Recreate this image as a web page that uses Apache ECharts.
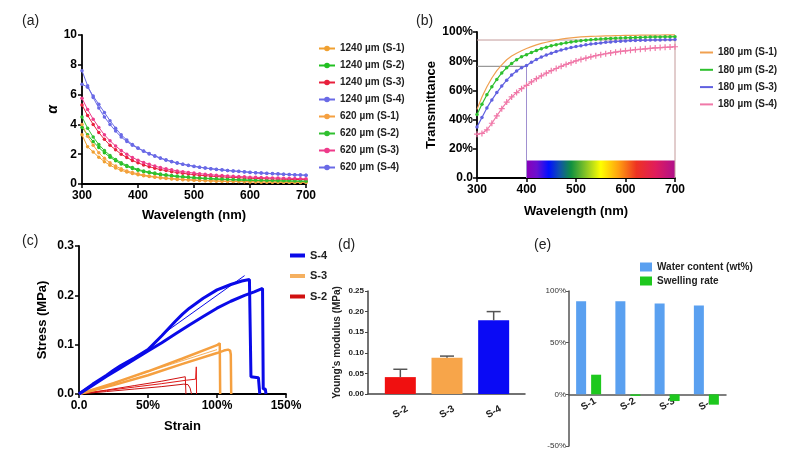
<!DOCTYPE html>
<html><head><meta charset="utf-8">
<script src="https://cdn.jsdelivr.net/npm/echarts@6/dist/echarts.min.js"></script>
<style>html,body{margin:0;padding:0;background:#fff}#c{width:787px;height:458px}</style>
</head><body><div id="c"></div>
<script>
// ---------- Panel (a): absorption coefficient ----------
const wavelengths = [300,310,320,330,340,350,360,370,380,390,400,410,420,430,440,450,460,470,480,490,500,510,520,530,540,550,560,570,580,590,600,610,620,630,640,650,660,670,680,690,700];
const a1240S1 = [3.3,2.5,2.15,1.8,1.5,1.26,1.07,0.92,0.8,0.7,0.62,0.55,0.5,0.45,0.41,0.37,0.34,0.31,0.29,0.27,0.25,0.23,0.22,0.2,0.19,0.18,0.17,0.16,0.16,0.15,0.14,0.14,0.13,0.13,0.12,0.12,0.11,0.11,0.1,0.1,0.1];
const a1240S2 = [3.8,3.3,2.85,2.45,2.1,1.8,1.56,1.35,1.18,1.04,0.92,0.83,0.75,0.68,0.62,0.57,0.53,0.49,0.46,0.43,0.4,0.38,0.36,0.34,0.32,0.3,0.29,0.27,0.26,0.25,0.24,0.23,0.22,0.21,0.21,0.2,0.19,0.19,0.18,0.18,0.17];
const a1240S3 = [5.3,4.6,4.0,3.45,3.0,2.6,2.3,2.0,1.78,1.58,1.42,1.28,1.16,1.06,0.97,0.9,0.83,0.77,0.72,0.67,0.63,0.59,0.56,0.53,0.5,0.48,0.46,0.44,0.42,0.4,0.39,0.37,0.36,0.35,0.34,0.33,0.32,0.31,0.3,0.3,0.29];
const a1240S4 = [6.7,6.5,5.9,5.35,4.8,4.25,3.75,3.3,2.95,2.65,2.42,2.22,2.04,1.89,1.75,1.62,1.51,1.42,1.33,1.26,1.19,1.13,1.08,1.03,0.99,0.95,0.91,0.88,0.85,0.82,0.79,0.76,0.74,0.72,0.7,0.68,0.66,0.64,0.62,0.61,0.59];
const a620S1 = [4.0,3.2,2.6,2.1,1.72,1.42,1.2,1.02,0.88,0.77,0.68,0.6,0.54,0.49,0.44,0.4,0.37,0.34,0.31,0.29,0.27,0.25,0.24,0.22,0.21,0.2,0.19,0.18,0.17,0.16,0.16,0.15,0.14,0.14,0.13,0.13,0.12,0.12,0.11,0.11,0.11];
const a620S2 = [4.5,3.75,3.15,2.65,2.25,1.92,1.65,1.43,1.25,1.1,0.98,0.88,0.8,0.73,0.67,0.62,0.57,0.53,0.5,0.47,0.44,0.41,0.39,0.37,0.35,0.33,0.32,0.3,0.29,0.28,0.27,0.26,0.25,0.24,0.23,0.22,0.22,0.21,0.2,0.2,0.19];
const a620S3 = [5.75,5.0,4.35,3.8,3.3,2.9,2.55,2.25,2.0,1.78,1.6,1.45,1.32,1.2,1.1,1.02,0.95,0.88,0.83,0.78,0.73,0.69,0.66,0.62,0.59,0.57,0.54,0.52,0.5,0.48,0.46,0.45,0.43,0.42,0.41,0.4,0.39,0.38,0.37,0.36,0.35];
const a620S4 = [7.6,6.6,5.8,5.1,4.5,4.0,3.55,3.15,2.85,2.6,2.4,2.2,2.02,1.87,1.73,1.6,1.5,1.4,1.32,1.25,1.18,1.12,1.07,1.02,0.98,0.94,0.9,0.87,0.84,0.81,0.78,0.76,0.73,0.71,0.69,0.67,0.65,0.63,0.61,0.6,0.58];
const aNames = ['1240 µm (S-1)','1240 µm (S-2)','1240 µm (S-3)','1240 µm (S-4)','620 µm (S-1)','620 µm (S-2)','620 µm (S-3)','620 µm (S-4)'];
const aColors = ['#f0a030','#22c022','#e8203c','#6a6ae6','#f5a040','#30c030','#ee3b8a','#6a6ae6'];
const aData = [a1240S1,a1240S2,a1240S3,a1240S4,a620S1,a620S2,a620S3,a620S4];

// ---------- Panel (b): transmittance ----------
const tS1 = [47,55.5,62.5,68.5,73.5,77.5,81,83.5,85.5,87.2,88.7,90,91.2,92.2,93,93.8,94.5,95.1,95.6,96,96.3,96.6,96.8,97,97.1,97.2,97.3,97.4,97.5,97.6,97.65,97.7,97.75,97.8,97.85,97.9,97.9,97.95,98,98,98];
const tS2 = [43.5,50.5,57,62.5,67.5,72,75.5,78.5,81,83,84.5,86,87.4,88.6,89.6,90.5,91.3,92,92.6,93.1,93.6,94,94.4,94.7,95,95.2,95.4,95.6,95.8,95.9,96,96.1,96.2,96.3,96.4,96.5,96.6,96.6,96.7,96.7,96.8];
const tS3 = [35,41.5,48,53.5,58.5,63,67,70.5,73.3,75.5,77,79.3,81.2,82.8,84.2,85.5,86.6,87.6,88.5,89.3,90,90.6,91.2,91.7,92.1,92.5,92.9,93.2,93.5,93.7,93.9,94.1,94.2,94.3,94.4,94.5,94.6,94.6,94.7,94.7,94.8];
const tS4 = [30,30.5,33,37.5,42.5,47.5,52,55.5,58.5,61.2,63.5,65.8,68,70,71.8,73.5,75,76.5,77.8,79,80.2,81.2,82.1,83,83.8,84.5,85.1,85.7,86.2,86.7,87.1,87.5,87.9,88.2,88.5,88.8,89.1,89.3,89.5,89.7,89.9];
const bNames = ['180 µm (S-1)','180 µm (S-2)','180 µm (S-3)','180 µm (S-4)'];
const bColors = ['#f0a050','#2ec02e','#6060e0','#f078a8'];
const refHigh = [[300,94.5],[700,94.5],[700,0]];
const refLowH = [[300,76.5],[400,76.5]];
const refLowV = [[400,76.5],[400,0]];
const spectrumBox = [400, 700, 12];

// ---------- Panel (c): stress-strain ----------
const s4aStrain = [0,10,20,25,30,40,50,60,70,75,80,90,100,110,118,123.5,124.5,124.6,130,130.5,131];
const s4aStress = [0,0.02,0.038,0.048,0.057,0.073,0.09,0.118,0.148,0.162,0.174,0.194,0.211,0.222,0.229,0.232,0.232,0.035,0.033,0.033,0];
const s4bStrain = [0,10,20,30,40,50,60,70,80,90,100,110,120,127,133,133.5,134,135,135.5];
const s4bStress = [0,0.018,0.036,0.053,0.07,0.087,0.104,0.122,0.14,0.157,0.174,0.188,0.2,0.207,0.214,0.01,0.01,0.01,0];
const s4FitStrain = [60,120];
const s4FitStress = [0.12,0.24];
const s3aStrain = [0,25,50,75,100,102,102.3];
const s3aStress = [0,0.022,0.046,0.072,0.099,0.103,0];
const s3bStrain = [0,25,50,75,100,105,108,109.5,110,110.3];
const s3bStress = [0,0.018,0.038,0.061,0.083,0.088,0.09,0.088,0.08,0];
const s3FitStrain = [22,100];
const s3FitStress = [0.02,0.09];
const s2aStrain = [0,20,40,60,77,77.3,77.5];
const s2aStress = [0,0.008,0.017,0.026,0.035,0.035,0];
const s2bStrain = [0,20,40,60,78,84.5,85,85.2];
const s2bStress = [0,0.007,0.014,0.021,0.028,0.03,0.055,0];
const s2cStrain = [0,20,40,60,76,79,80.5,81.5];
const s2cStress = [0,0.005,0.01,0.015,0.02,0.019,0.012,0];

// ---------- Panel (d): Young's modulus ----------
const dCats = ['S-2','S-3','S-4'];
const dValues = [0.041,0.088,0.179];
const dErrTop = [0.060,0.092,0.200];
const dColors = ['#f01010','#f7a54a','#0a0af5'];

// ---------- Panel (e): water content / swelling ----------
const eCats = ['S-1','S-2','S-3','S-4'];
const eWater = [90,90,88,86];
const eSwell = [19,-1.5,-6.5,-10];

const F = '"Liberation Sans", Arial, sans-serif';
const pair = (xs, ys) => xs.map((x, i) => [x, ys[i]]);
const pairWl = ys => wavelengths.map((w, i) => [w, ys[i]]);

const chart = echarts.init(document.getElementById('c'), null, {renderer: 'canvas'});

const boldTick = (size) => ({fontFamily: F, fontWeight: 'bold', fontSize: size, color: '#000'});

const series = [];
// (a)
aData.forEach((d, i) => {
  series.push({
    type: 'line', name: aNames[i], xAxisIndex: 0, yAxisIndex: 0,
    data: pairWl(d), symbol: 'circle', symbolSize: 3.5, showSymbol: true,
    lineStyle: {width: 1, color: aColors[i]}, itemStyle: {color: aColors[i]},
    emphasis: {disabled: true}, animation: false, z: 3
  });
});
// (b) reference lines and spectrum
series.push({type: 'line', xAxisIndex: 1, yAxisIndex: 1, data: refHigh, symbol: 'none',
  lineStyle: {width: 1, color: '#c49a9a'}, animation: false, z: 2});
series.push({type: 'line', xAxisIndex: 1, yAxisIndex: 1, data: refLowH, symbol: 'none',
  lineStyle: {width: 1, color: '#808080'}, animation: false, z: 2});
series.push({type: 'line', xAxisIndex: 1, yAxisIndex: 1, data: refLowV, symbol: 'none',
  lineStyle: {width: 1, color: '#a090d0'}, animation: false, z: 2,
  markArea: {silent: true, itemStyle: {
    color: new echarts.graphic.LinearGradient(0, 0, 1, 0, [
      {offset: 0, color: '#8a00b8'}, {offset: 0.07, color: '#6a10d0'}, {offset: 0.15, color: '#0010ff'},
      {offset: 0.22, color: '#1050b0'}, {offset: 0.3, color: '#109040'}, {offset: 0.42, color: '#a0d020'},
      {offset: 0.5, color: '#ffff00'}, {offset: 0.62, color: '#ffa010'}, {offset: 0.74, color: '#ee3322'},
      {offset: 0.87, color: '#e01c5c'}, {offset: 1, color: '#b0108c'}])},
    data: [[{coord: [spectrumBox[0], 0]}, {coord: [spectrumBox[1], spectrumBox[2]]}]]}
});
const plusPath = 'path://M4,0h2v4h4v2h-4v4h-2v-4h-4v-2h4z';
[tS1, tS2, tS3, tS4].forEach((d, i) => {
  series.push({
    type: 'line', name: bNames[i], xAxisIndex: 1, yAxisIndex: 1, data: pairWl(d),
    symbol: i === 0 ? 'none' : (i === 3 ? plusPath : 'circle'),
    symbolSize: i === 3 ? 6 : 3.5, showSymbol: i !== 0,
    lineStyle: {width: 1.2, color: bColors[i]}, itemStyle: {color: bColors[i]},
    animation: false, z: 3
  });
});
// (c)
const cLine = (name, xs, ys, color, w) => ({
  type: 'line', name: name, xAxisIndex: 2, yAxisIndex: 2, data: pair(xs, ys),
  symbol: 'none', lineStyle: {width: w, color: color}, itemStyle: {color: color},
  animation: false
});
series.push(cLine('S-2', s2aStrain, s2aStress, '#d01010', 1));
series.push(cLine('S-2', s2bStrain, s2bStress, '#e01818', 1));
series.push(cLine('S-2', s2cStrain, s2cStress, '#c81010', 1));
series.push(cLine('S-3', s3FitStrain, s3FitStress, '#f5b060', 1));
series.push(cLine('S-3', s3bStrain, s3bStress, '#f5a040', 2.5));
series.push(cLine('S-3', s3aStrain, s3aStress, '#f5a040', 2.5));
series.push(cLine('S-4', s4bStrain, s4bStress, '#0a0ae8', 3));
series.push(cLine('S-4', s4aStrain, s4aStress, '#0a0ae8', 3));
series.push(cLine('S-4', s4FitStrain, s4FitStress, '#0a0ae8', 1));
// (d)
series.push({
  type: 'bar', xAxisIndex: 4, yAxisIndex: 4, barWidth: 31,
  data: dValues.map((v, i) => ({value: v, itemStyle: {color: dColors[i]}})),
  animation: false, z: 2
});
series.push({
  type: 'custom', xAxisIndex: 4, yAxisIndex: 4, animation: false, z: 3,
  data: dValues.map((v, i) => [i, v, dErrTop[i]]),
  renderItem: (params, api) => {
    const p0 = api.coord([api.value(0), api.value(1)]);
    const p1 = api.coord([api.value(0), api.value(2)]);
    const st = {stroke: '#555', lineWidth: 1.5};
    return {type: 'group', children: [
      {type: 'line', shape: {x1: p0[0], y1: p0[1], x2: p1[0], y2: p1[1]}, style: st},
      {type: 'line', shape: {x1: p1[0] - 7, y1: p1[1], x2: p1[0] + 7, y2: p1[1]}, style: st}
    ]};
  }
});
// (e)
series.push({type: 'bar', name: 'Water content (wt%)', xAxisIndex: 5, yAxisIndex: 5,
  data: eWater, barWidth: 10, barGap: '50%', itemStyle: {color: '#5aa0f0'}, animation: false});
series.push({type: 'bar', name: 'Swelling rate', xAxisIndex: 5, yAxisIndex: 5,
  data: eSwell, barWidth: 10, barGap: '50%', itemStyle: {color: '#1ec81e'}, animation: false});

const blackAxis = {lineStyle: {color: '#000', width: 1.8}};
const grayAxis = {lineStyle: {color: '#444', width: 1.5}};
const eGridTop = 291, eGridH = 155, eMin = -50, eMax = 100;

const option = {
  animation: false,
  backgroundColor: '#fff',
  textStyle: {fontFamily: F},
  grid: [
    {left: 82, top: 35, width: 224, height: 149},
    {left: 477, top: 32, width: 198, height: 146},
    {left: 79, top: 246, width: 207, height: 148},
    {left: 368, top: 291, width: 157, height: 103},
    {left: 377, top: 291, width: 140, height: 103},
    {left: 569, top: eGridTop, width: 157, height: eGridH}
  ],
  xAxis: [
    {gridIndex: 0, type: 'value', min: 300, max: 700, interval: 100,
     name: 'Wavelength (nm)', nameLocation: 'middle', nameGap: 25,
     nameTextStyle: {fontFamily: F, fontWeight: 'bold', fontSize: 13, color: '#000'},
     axisLine: blackAxis, axisTick: {lineStyle: {color: '#000', width: 1.5}, length: 4},
     axisLabel: Object.assign(boldTick(12), {margin: 6}), splitLine: {show: false}},
    {gridIndex: 1, type: 'value', min: 300, max: 700, interval: 100,
     name: 'Wavelength (nm)', nameLocation: 'middle', nameGap: 27,
     nameTextStyle: {fontFamily: F, fontWeight: 'bold', fontSize: 13, color: '#000'},
     axisLine: blackAxis, axisTick: {lineStyle: {color: '#000', width: 1.5}, length: 4},
     axisLabel: Object.assign(boldTick(12), {margin: 6}), splitLine: {show: false}},
    {gridIndex: 2, type: 'value', min: 0, max: 150, interval: 50,
     name: 'Strain', nameLocation: 'middle', nameGap: 26,
     nameTextStyle: {fontFamily: F, fontWeight: 'bold', fontSize: 13, color: '#000'},
     axisLine: blackAxis, axisTick: {lineStyle: {color: '#000', width: 1.5}, length: 4},
     axisLabel: Object.assign(boldTick(12), {margin: 6, formatter: v => v === 0 ? '0.0' : v + '%'}),
     splitLine: {show: false}},
    {gridIndex: 3, type: 'category', data: dCats, axisLine: grayAxis,
     axisTick: {show: false}, axisLabel: {show: false}},
    {gridIndex: 4, type: 'category', data: dCats, axisLine: {show: false}, axisTick: {show: false},
     axisLabel: {fontFamily: F, fontWeight: 'bold', fontSize: 10, color: '#222', rotate: 30,
       align: 'center', verticalAlign: 'middle', margin: 18}},
    {gridIndex: 5, type: 'category', data: eCats,
     offset: -eGridH * (0 - eMin) / (eMax - eMin),
     axisLine: {onZero: false, lineStyle: {color: '#555', width: 1.5}},
     axisTick: {alignWithLabel: true, lineStyle: {color: '#555'}, length: 3},
     axisLabel: {fontFamily: F, fontWeight: 'bold', fontSize: 10, color: '#222', rotate: 30,
       align: 'center', verticalAlign: 'middle', margin: 10}}
  ],
  yAxis: [
    {gridIndex: 0, type: 'value', min: 0, max: 10, interval: 2,
     name: 'α', nameLocation: 'middle', nameGap: 19,
     nameTextStyle: {fontFamily: F, fontWeight: 'bold', fontStyle: 'italic', fontSize: 14, color: '#000'},
     axisLine: {show: true, lineStyle: {color: '#000', width: 1.8}},
     axisTick: {show: true, lineStyle: {color: '#000', width: 1.5}, length: 4},
     axisLabel: Object.assign(boldTick(12), {margin: 5}), splitLine: {show: false}},
    {gridIndex: 1, type: 'value', min: 0, max: 100, interval: 20,
     name: 'Transmittance', nameLocation: 'middle', nameGap: 29,
     nameTextStyle: {fontFamily: F, fontWeight: 'bold', fontSize: 13, color: '#000'},
     axisLine: {show: true, lineStyle: {color: '#000', width: 1.8}},
     axisTick: {show: true, lineStyle: {color: '#000', width: 1.5}, length: 4},
     axisLabel: Object.assign(boldTick(12), {margin: 4, formatter: v => v === 0 ? '0.0' : v + '%'}),
     splitLine: {show: false}},
    {gridIndex: 2, type: 'value', min: 0, max: 0.3, interval: 0.1,
     name: 'Stress (MPa)', nameLocation: 'middle', nameGap: 30,
     nameTextStyle: {fontFamily: F, fontWeight: 'bold', fontSize: 13, color: '#000'},
     axisLine: {show: true, lineStyle: {color: '#000', width: 1.8}},
     axisTick: {show: true, lineStyle: {color: '#000', width: 1.5}, length: 4},
     axisLabel: Object.assign(boldTick(12), {margin: 5, formatter: v => v.toFixed(1)}),
     splitLine: {show: false}},
    {gridIndex: 3, type: 'value', min: 0, max: 0.25, interval: 0.05,
     name: "Young's modulus (MPa)", nameLocation: 'middle', nameGap: 26,
     nameTextStyle: {fontFamily: F, fontWeight: 'bold', fontSize: 10, color: '#222'},
     axisLine: {show: true, lineStyle: {color: '#444', width: 1.5}},
     axisTick: {show: true, lineStyle: {color: '#444'}, length: 3},
     axisLabel: {fontFamily: F, fontWeight: 'bold', fontSize: 8, color: '#222', margin: 4, formatter: v => v.toFixed(2)},
     splitLine: {show: false}},
    {gridIndex: 4, type: 'value', min: 0, max: 0.25, interval: 0.05, show: false},
    {gridIndex: 5, type: 'value', min: eMin, max: eMax, interval: 50,
     axisLine: {show: true, lineStyle: {color: '#555', width: 1.5}},
     axisTick: {show: true, lineStyle: {color: '#555'}, length: 3},
     axisLabel: {fontFamily: F, fontSize: 8, color: '#333', margin: 3, formatter: v => v + '%'},
     splitLine: {show: false}}
  ],
  legend: [
    {data: aNames, orient: 'vertical', left: 313, top: 37, itemWidth: 16, itemHeight: 7, itemGap: 4,
     textStyle: {fontFamily: F, fontWeight: 'bold', fontSize: 10, color: '#222', lineHeight: 13}, selectedMode: false},
    {data: bNames.map(n => ({name: n, icon: 'rect'})), orient: 'vertical', left: 695, top: 41,
     itemWidth: 13, itemHeight: 2, itemGap: 4.3,
     textStyle: {fontFamily: F, fontWeight: 'bold', fontSize: 10, color: '#222', lineHeight: 13}, selectedMode: false},
    {data: [{name: 'S-4', icon: 'rect'}, {name: 'S-3', icon: 'rect'}, {name: 'S-2', icon: 'rect'}],
     orient: 'vertical', left: 285, top: 244, itemWidth: 15, itemHeight: 4, itemGap: 7.5,
     textStyle: {fontFamily: F, fontWeight: 'bold', fontSize: 11, color: '#222', lineHeight: 13}, selectedMode: false},
    {data: [{name: 'Water content (wt%)', icon: 'rect'}, {name: 'Swelling rate', icon: 'rect'}],
     orient: 'vertical', left: 635, top: 256, itemWidth: 12, itemHeight: 9, itemGap: 2,
     textStyle: {fontFamily: F, fontWeight: 'bold', fontSize: 10, color: '#222', lineHeight: 12}, selectedMode: false}
  ],
  graphic: [
    {type: 'text', left: 22, top: 14, style: {text: '(a)', font: '14px ' + F, fill: '#222'}},
    {type: 'text', left: 416, top: 14, style: {text: '(b)', font: '14px ' + F, fill: '#222'}},
    {type: 'text', left: 22, top: 234, style: {text: '(c)', font: '14px ' + F, fill: '#222'}},
    {type: 'text', left: 338, top: 238, style: {text: '(d)', font: '14px ' + F, fill: '#222'}},
    {type: 'text', left: 534, top: 238, style: {text: '(e)', font: '14px ' + F, fill: '#222'}}
  ],
  series: series
};
chart.setOption(option);
</script>
</body></html>
